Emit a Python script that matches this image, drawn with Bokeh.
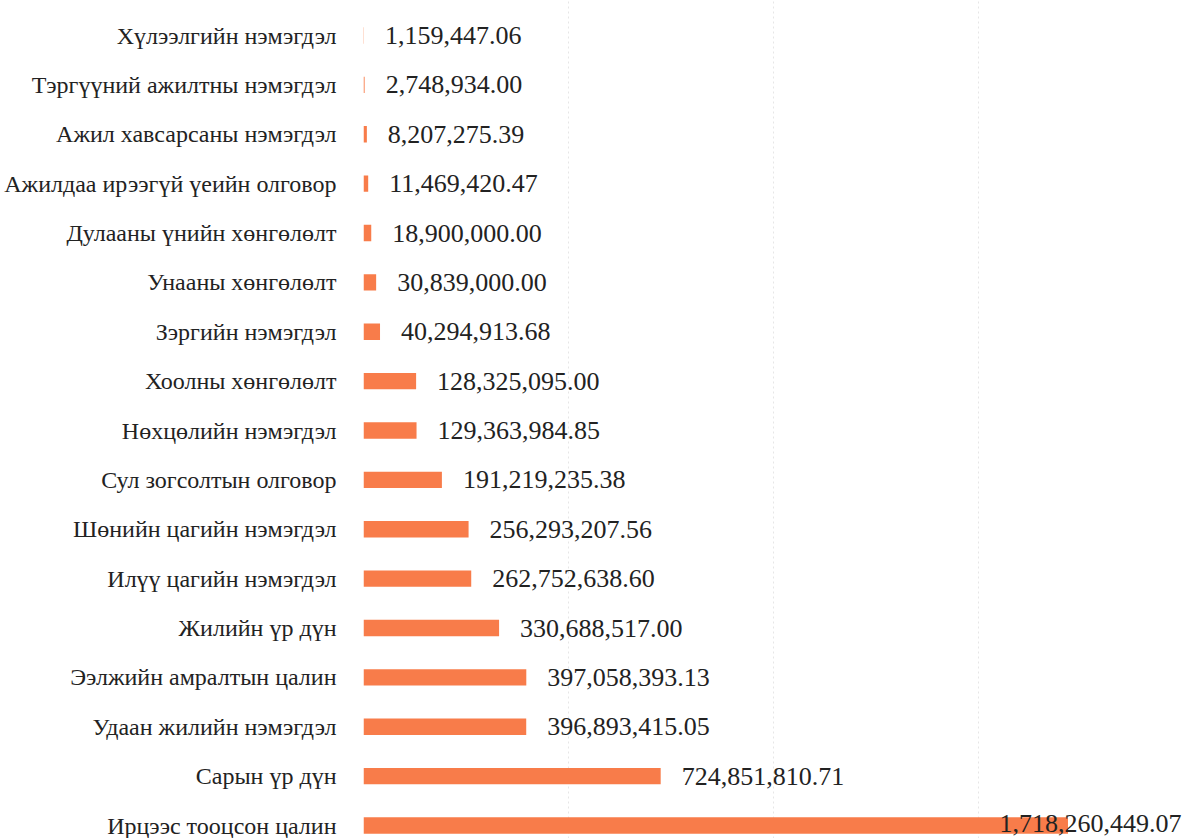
from bokeh.plotting import figure
from bokeh.models import ColumnDataSource, LabelSet, Range1d, FixedTicker
from bokeh.embed import file_html
from bokeh.resources import INLINE

# Data (top to bottom as shown)
categories = [
    "Хүлээлгийн нэмэгдэл",
    "Тэргүүний ажилтны нэмэгдэл",
    "Ажил хавсарсаны нэмэгдэл",
    "Ажилдаа ирээгүй үеийн олговор",
    "Дулааны үнийн хөнгөлөлт",
    "Унааны хөнгөлөлт",
    "Зэргийн нэмэгдэл",
    "Хоолны хөнгөлөлт",
    "Нөхцөлийн нэмэгдэл",
    "Сул зогсолтын олговор",
    "Шөнийн цагийн нэмэгдэл",
    "Илүү цагийн нэмэгдэл",
    "Жилийн үр дүн",
    "Ээлжийн амралтын цалин",
    "Удаан жилийн нэмэгдэл",
    "Сарын үр дүн",
    "Ирцээс тооцсон цалин",
]
values = [
    1159447.06,
    2748934.00,
    8207275.39,
    11469420.47,
    18900000.00,
    30839000.00,
    40294913.68,
    128325095.00,
    129363984.85,
    191219235.38,
    256293207.56,
    262752638.60,
    330688517.00,
    397058393.13,
    396893415.05,
    724851810.71,
    1718260449.07,
]
grid_ticks = [0, 500000000, 1000000000, 1500000000]

X_MAX = 2.0e9
n = len(categories)
ypos = [n - 1 - i for i in range(n)]
labels = [f"{v:,.2f}" for v in values]
big = [v > 0.8 * X_MAX for v in values]
lx = [X_MAX if b else v for b, v in zip(big, values)]
align = ["right" if b else "left" for b in big]
xoff = [-2 if b else 21 for b in big]
yoff = [2 if b else 0 for b in big]

src = ColumnDataSource(dict(cat=categories, val=values, y=ypos, lab=labels,
                            lx=lx, align=align, xoff=xoff, yoff=yoff))

p = figure(width=1183, height=838, output_backend="svg", toolbar_location=None,
           x_range=Range1d(0, X_MAX), y_range=Range1d(-0.263, n - 1 + 0.709),
           min_border_left=363, min_border_right=0, min_border_top=0, min_border_bottom=0)
p.outline_line_color = None
p.xaxis.visible = False
p.ygrid.grid_line_color = None
p.xgrid.ticker = FixedTicker(ticks=grid_ticks)
p.xgrid.grid_line_color = "#e6e6e6"
p.xgrid.grid_line_dash = "2 3"
p.xgrid.grid_line_width = 1

yax = p.yaxis[0]
yax.ticker = FixedTicker(ticks=ypos)
yax.major_label_overrides = {y: c for y, c in zip(ypos, categories)}
yax.axis_line_color = None
yax.major_tick_line_color = None
yax.minor_tick_line_color = None
yax.major_tick_out = 0
yax.major_tick_in = 0
yax.major_label_standoff = 27
yax.major_label_text_font = "Liberation Serif"
yax.major_label_text_font_size = "24px"
yax.major_label_text_color = "#222222"

p.hbar(y="y", left=0, right="val", height=0.33, source=src,
       fill_color="#F87C4A", line_color=None)

val_labels = LabelSet(x="lx", y="y", text="lab", source=src, x_offset="xoff",
                      y_offset="yoff",
                      text_align="align", text_baseline="middle",
                      text_font="Liberation Serif", text_font_size="26px",
                      text_color="#222222")
p.add_layout(val_labels)

open("out.html", "w").write(file_html(p, INLINE))
